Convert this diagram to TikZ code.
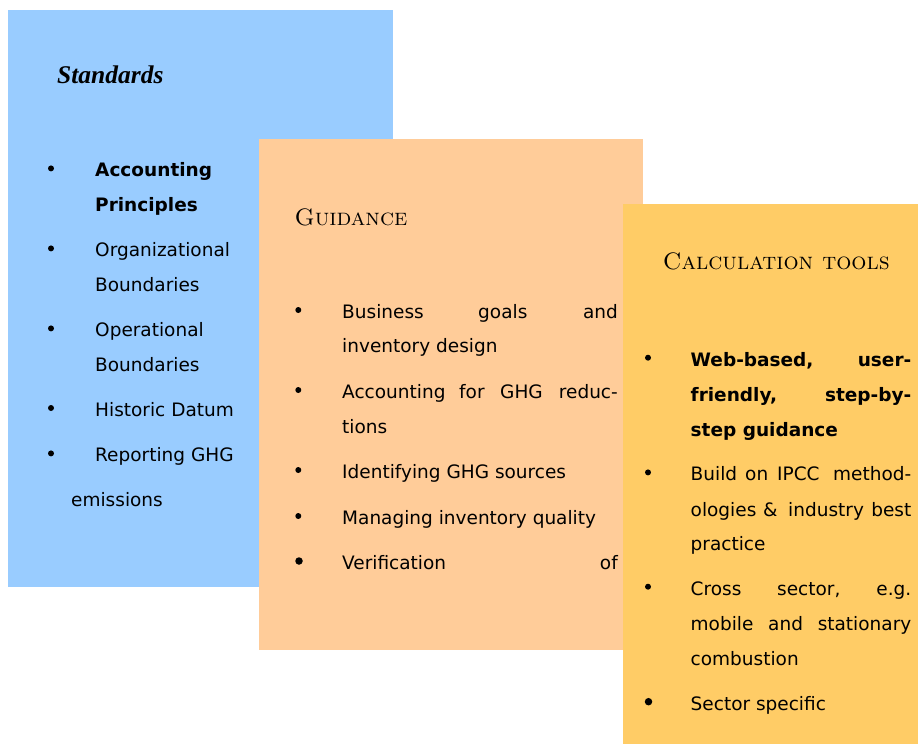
\documentclass[tikz,border=0pt]{standalone}
\usepackage{fontspec}
\setsansfont{DejaVu Sans}
\newfontfamily\headserif{Liberation Serif}
\definecolor{cblue}{HTML}{99CCFF}
\definecolor{cpeach}{HTML}{FFCC99}
\definecolor{cyell}{HTML}{FFCC66}
\begin{document}
\begin{tikzpicture}[x=1pt,y=-1pt,
  panel/.style={fill=#1,draw=none},
  txt/.style={anchor=base west,inner sep=0pt,font=\sffamily\fontsize{18.5}{22}\selectfont},
  txtb/.style={txt,font=\sffamily\bfseries\fontsize{18.5}{22}\selectfont},
  txtr/.style={txt,anchor=base east},
  txtbr/.style={txtb,anchor=base east},
  head/.style={anchor=base west,inner sep=0pt,font=\rmfamily\fontsize{23.8}{26}\selectfont},
  bul/.style={circle,fill=black,draw=none,inner sep=0pt,minimum size=6pt},
  bulbig/.style={bul,minimum size=7.5pt}]
\useasboundingbox (0,0) rectangle (918,744);
\fill[white] (0,0) rectangle (918,744);

% ---------- Standards panel ----------
\path[panel=cblue] (8,10) rectangle (393,587);
\node[head,font=\headserif\bfseries\itshape\fontsize{25.5}{28}\selectfont] (hS) at (57,83.3) {Standards};
\node[bul] (sb1) at (51,168.4) {};
\node[txtb] (s1a) at (95,176.7) {Accounting};
\node[txtb] (s1b) at (95,211.7) {Principles};
\node[bul] (sb2) at (51,248.4) {};
\node[txt] (s2a) at (95,256.7) {Organizational};
\node[txt] (s2b) at (95,291.7) {Boundaries};
\node[bul] (sb3) at (51,328.4) {};
\node[txt] (s3a) at (95,336.7) {Operational};
\node[txt] (s3b) at (95,371.7) {Boundaries};
\node[bul] (sb4) at (51,408) {};
\node[txt] (s4) at (95,416.3) {Historic Datum};
\node[bul] (sb5) at (51,453.4) {};
\node[txt] (s5a) at (95,461.7) {Reporting GHG};
\node[txt] (s5b) at (71,506.7) {emissions};

% ---------- Guidance panel ----------
\path[panel=cpeach] (259,139) rectangle (642.7,649.5);
\node[head] (hG) at (294.3,225) {\textsc{Guidance}};
\node[bul] (gb1) at (298.3,310) {};
\node[txt] (g1a) at (342,318.3) {Business};
\node[txt] (g1b) at (478,318.3) {goals};
\node[txtr] (g1c) at (618,318.3) {and};
\node[txt] (g1d) at (342,352.7) {inventory design};
\node[bul] (gb2) at (298.3,390) {};
\node[txt] (g2a) at (342,398.3) {Accounting};
\node[txt] (g2b) at (459,398.3) {for};
\node[txt] (g2c) at (500,398.3) {GHG};
\node[txtr] (g2d) at (618,398.3) {reduc-};
\node[txt] (g2e) at (342,433.3) {tions};
\node[bul] (gb3) at (298.3,470) {};
\node[txt] (g3) at (342,478.3) {Identifying GHG sources};
\node[bul] (gb4) at (298.3,516) {};
\node[txt] (g4) at (342,524.3) {Managing inventory quality};
\node[bulbig] (gb5) at (299,561) {};
\node[txt] (g5a) at (342,569.3) {Verification};
\node[txtr] (g5b) at (618,569.3) {of};

% ---------- Calculation tools panel ----------
\path[panel=cyell] (622.7,204) rectangle (918,744);
\node[head] (hC) at (662.7,269.3) {\textsc{Calculation tools}};
\node[bul] (cb1) at (648,357.7) {};
\node[txtb] (c1a) at (690.5,366) {Web-based,};
\node[txtbr] (c1b) at (911.5,366) {user-};
\node[txtb] (c1c) at (690.5,401.7) {friendly,};
\node[txtbr] (c1d) at (911.5,401.7) {step-by-};
\node[txtb] (c1e) at (690.5,436) {step guidance};
\node[bul] (cb2) at (648,472.4) {};
\node[txt] (c2a) at (690.5,480.7) {Build};
\node[txt] (c2b) at (745,480.7) {on};
\node[txt] (c2c) at (777,480.7) {IPCC};
\node[txtr] (c2d) at (911.5,480.7) {method-};
\node[txt] (c2e) at (690.5,516) {ologies};
\node[txt] (c2f) at (763,516) {\&};
\node[txt] (c2g) at (788,516) {industry};
\node[txtr] (c2h) at (911.5,516) {best};
\node[txt] (c2i) at (690.5,550.7) {practice};
\node[bul] (cb3) at (648,586.7) {};
\node[txt] (c3a) at (690.5,595) {Cross};
\node[txt] (c3b) at (777,595) {sector,};
\node[txtr] (c3c) at (911.5,595) {e.g.};
\node[txt] (c3d) at (690.5,630) {mobile};
\node[txt] (c3e) at (768,630) {and};
\node[txtr] (c3f) at (911.5,630) {stationary};
\node[txt] (c3g) at (690.5,665) {combustion};
\node[bulbig] (cb4) at (648.5,701.7) {};
\node[txt] (c4) at (690.5,710) {Sector specific};
\end{tikzpicture}
\end{document}
